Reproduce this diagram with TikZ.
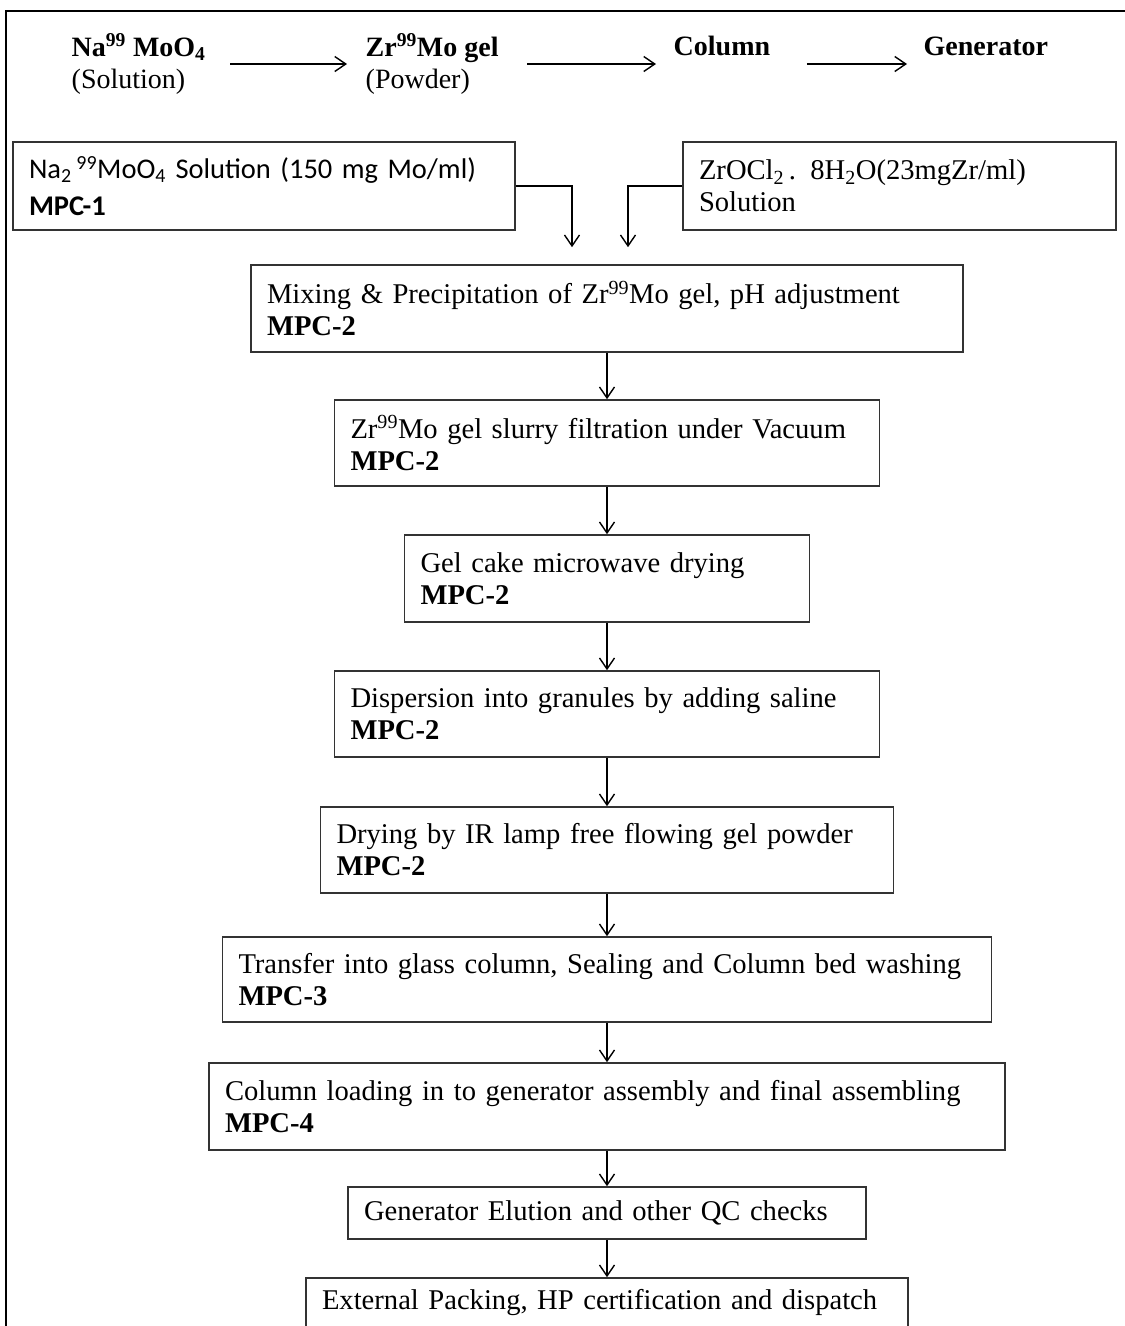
\documentclass[tikz,border=0pt]{standalone}
\usepackage{fontspec}
\setmainfont{Liberation Serif}
\newfontfamily\calibrifont{Carlito}
\usetikzlibrary{arrows.meta}
\begin{document}
\begin{tikzpicture}[x=1pt,y=-1pt,line width=1.4pt,>={Straight Barb[length=11pt,width=15pt]},
		stepbox/.style={draw=black!80,line width=1.6pt,align=left,inner xsep=16pt,inner ysep=0pt,font=\fontsize{28.6}{32}\selectfont},
		toptxt/.style={align=left,inner sep=0pt,font=\fontsize{28}{32}\selectfont}]
		\useasboundingbox (0,0) rectangle (1125,1326);
		\clip (0,0) rectangle (1125,1326);
		\draw[line width=2.5pt] (6,1340) -- (6,11) -- (1140,11);
		% top row
		\node[toptxt,anchor=west] (na) at (71,64) {\textbf{Na\textsuperscript{99} MoO\textsubscript{4}}\\(Solution)};
		\node[toptxt,anchor=west] (zr) at (365,64) {\textbf{Zr\textsuperscript{99}Mo gel}\\(Powder)};
		\node[toptxt,anchor=base west] (col) at (673,55) {\textbf{Column}};
		\node[toptxt,anchor=base west] (gen) at (923,55) {\textbf{Generator}};
		\draw [->,shorten <=24pt,shorten >=18pt] (na) -- (zr);
		\draw [->,shorten <=28pt,shorten >=17pt] (zr.east) -- (zr.east -| col.west);
		\draw [->,shorten <=36pt,shorten >=16pt] (col.east |- zr.east) -- (gen.west |- zr.east);
		% sources
		\node[stepbox,text width=470pt,minimum height=88pt,font=\calibrifont\fontsize{28.5}{37}\selectfont] (mpc1) at (264,186) {Na\textsubscript{2}\,\textsuperscript{99}MoO\textsubscript{4} Solution (150 mg Mo/ml)\\\textbf{MPC-1}};
		\node[stepbox,text width=401pt,minimum height=88pt] (zrcl) at (899.5,186) {ZrOCl\textsubscript{2}\,. 8H\textsubscript{2}O(23mgZr/ml)\\Solution};
		% process steps
		\node[stepbox,text width=680pt,minimum height=87pt] (mix) at (607,308.5) {Mixing \& Precipitation of Zr\textsuperscript{99}Mo gel, pH adjustment\\\textbf{MPC-2}};
		\node[stepbox,text width=513pt,minimum height=86pt] (filt) at (607,443) {Zr\textsuperscript{99}Mo gel slurry filtration under Vacuum\\\textbf{MPC-2}};
		\node[stepbox,text width=373pt,minimum height=87pt] (dry) at (607,578.5) {Gel cake microwave drying\\\textbf{MPC-2}};
		\node[stepbox,text width=513pt,minimum height=86pt] (disp) at (607,714) {Dispersion into granules by adding saline\\\textbf{MPC-2}};
		\node[stepbox,text width=541pt,minimum height=86pt] (lamp) at (607,850) {Drying by IR lamp free flowing gel powder\\\textbf{MPC-2}};
		\node[stepbox,text width=737pt,minimum height=85pt] (trans) at (607,979.5) {Transfer into glass column, Sealing and Column bed washing\\\textbf{MPC-3}};
		\node[stepbox,text width=764pt,minimum height=87pt] (load) at (607,1106.5) {Column loading in to generator assembly and final assembling\\\textbf{MPC-4}};
		\node[stepbox,text width=486pt,minimum height=52pt] (qc) at (607,1213) {Generator Elution and other QC checks};
		\node[stepbox,text width=570pt,minimum height=80pt,text depth=38pt] (pack) at (607,1318) {External Packing, HP certification and dispatch};
		\draw [->] (mpc1.east) -| ([xshift=-35pt,yshift=17pt]mix.north);
		\draw [->] (zrcl.west) -| ([xshift=21pt,yshift=17pt]mix.north);
		\draw [->] (mix) -- (filt);
		\draw [->] (filt) -- (dry);
		\draw [->] (dry) -- (disp);
		\draw [->] (disp) -- (lamp);
		\draw [->] (lamp) -- (trans);
		\draw [->] (trans) -- (load);
		\draw [->] (load) -- (qc);
		\draw [->] (qc) -- (pack);
	\end{tikzpicture}
\end{document}
